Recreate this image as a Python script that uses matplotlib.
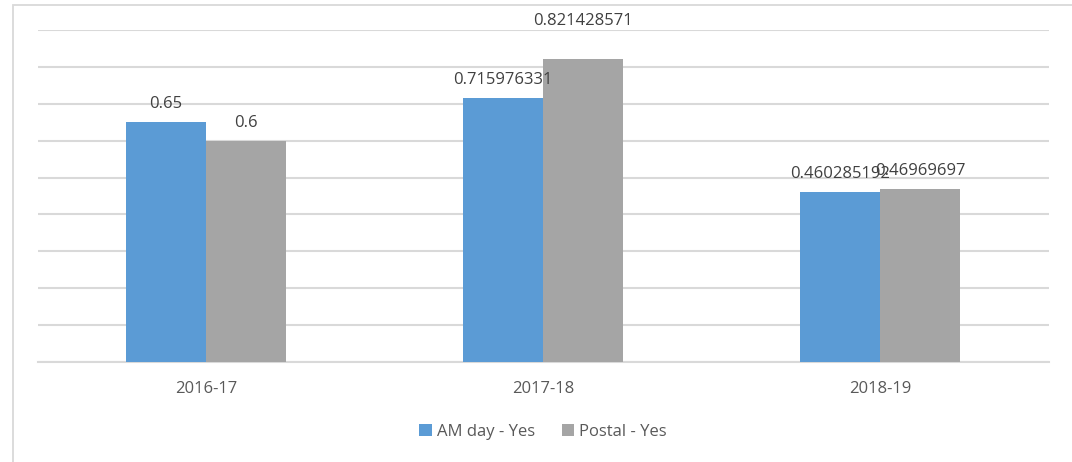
import matplotlib
matplotlib.use("Agg")
import matplotlib.pyplot as plt
from matplotlib.patches import Rectangle
import numpy as np

categories = ["2016-17", "2017-18", "2018-19"]
am_day_yes = [0.65, 0.715976331, 0.460285192]
postal_yes = [0.6, 0.821428571, 0.46969697]
am_labels = ["0.65", "0.715976331", "0.460285192"]
postal_labels = ["0.6", "0.821428571", "0.46969697"]

# vertical offsets (points) of the data labels above their bars
am_label_offsets = [7, 7, 7]
postal_label_offsets = [7, 21.5, 7]

BLUE = "#5B9BD5"
GRAY = "#A5A5A5"
GRID = "#D9D9D9"
TEXT = "#404040"
FONT = "Open Sans"
FS = 12

W, H = 1072, 462
fig = plt.figure(figsize=(W / 100, H / 100), dpi=100)

# outer chart frame
fig.patches.append(Rectangle((13 / W, -0.05), 1.1, 1 - 5 / H + 0.05,
                             transform=fig.transFigure, fill=False,
                             edgecolor=GRID, linewidth=1.3))

ax = fig.add_axes([37.5 / W, 1 - 362 / H, (1048.7 - 37.5) / W, (362 - 30) / H])
x = np.arange(len(categories))
bw = 0.2375
b1 = ax.bar(x - bw / 2, am_day_yes, bw, color=BLUE, label="AM day - Yes", zorder=3)
b2 = ax.bar(x + bw / 2, postal_yes, bw, color=GRAY, label="Postal - Yes", zorder=3)

for bars, labels, offs in ((b1, am_labels, am_label_offsets),
                           (b2, postal_labels, postal_label_offsets)):
    for rect, lab, off in zip(bars, labels, offs):
        ax.annotate(lab, (rect.get_x() + rect.get_width() / 2, rect.get_height()),
                    xytext=(0, off), textcoords="offset points", ha="center", va="bottom",
                    fontsize=FS, color=TEXT, family=FONT, zorder=5)

ax.set_xlim(-0.5, len(categories) - 0.5)
ax.set_ylim(0, 0.9)
ax.set_yticks(np.arange(0, 0.91, 0.1))
ax.yaxis.grid(True, color=GRID, linewidth=1.5, zorder=0)
ax.tick_params(axis="y", left=False, labelleft=False)
ax.tick_params(axis="x", bottom=False, pad=10)
ax.set_xticks(x)
ax.set_xticklabels(categories, fontsize=FS, color="#595959", family=FONT)
for s in ("top", "right", "left"):
    ax.spines[s].set_visible(False)
ax.spines["bottom"].set_color(GRID)
ax.spines["bottom"].set_linewidth(1.5)

leg = fig.legend(handles=[b1, b2], loc="center", bbox_to_anchor=(543 / W, 1 - 432 / H),
                 ncol=2, frameon=False, handlelength=0.75, handleheight=0.75,
                 handletextpad=0.3, columnspacing=1.6,
                 prop={"family": FONT, "size": FS})
for t in leg.get_texts():
    t.set_color("#595959")

fig.savefig("out.png", dpi=100)
